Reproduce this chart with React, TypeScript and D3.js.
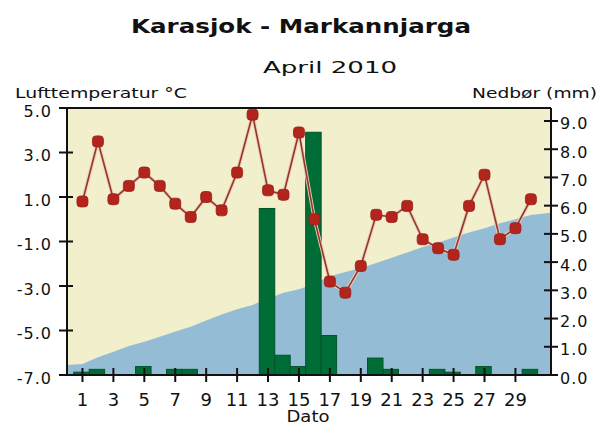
import React from "react";
import * as d3 from "d3";

const days = [1, 2, 3, 4, 5, 6, 7, 8, 9, 10, 11, 12, 13, 14, 15, 16, 17, 18, 19, 20, 21, 22, 23, 24, 25, 26, 27, 28, 29, 30];
const temperature = [0.8, 3.5, 0.9, 1.5, 2.1, 1.5, 0.7, 0.1, 1.0, 0.4, 2.1, 4.7, 1.3, 1.1, 3.9, 0.0, -2.8, -3.3, -2.1, 0.2, 0.1, 0.6, -0.9, -1.3, -1.6, 0.6, 2.0, -0.9, -0.4, 0.9];
const precipitation = [0.1, 0.2, 0, 0, 0.3, 0, 0.2, 0.2, 0, 0, 0, 0, 5.9, 0.7, 0.3, 8.6, 1.4, 0, 0, 0.6, 0.2, 0, 0, 0.2, 0.1, 0, 0.3, 0, 0, 0.2];
const normalDays = [0, 1, 2, 3, 4, 5, 6, 7, 8, 9, 10, 11, 12, 13, 14, 15, 16, 17, 18, 19, 20, 21, 22, 23, 24, 25, 26, 27, 28, 29, 30, 31, 31.3];
const normalTemp = [-6.55, -6.5, -6.2, -5.95, -5.7, -5.5, -5.28, -5.05, -4.83, -4.55, -4.28, -4.05, -3.85, -3.57, -3.3, -3.15, -2.9, -2.56, -2.37, -2.2, -1.97, -1.73, -1.49, -1.25, -1.04, -0.82, -0.6, -0.4, -0.18, 0.0, 0.19, 0.27, 0.3];
const tempTicks = [5, 3, 1, -1, -3, -5, -7];
const precipTicks = [0, 1, 2, 3, 4, 5, 6, 7, 8, 9];
const dayTicks = [1, 3, 5, 7, 9, 11, 13, 15, 17, 19, 21, 23, 25, 27, 29];

const W = 600, H = 427;
const L = 67, R = 551, T = 108, B = 375;

export default function App() {
  const x = d3.scaleLinear().domain([0, 31.3]).range([L, R]);
  const yT = d3.scaleLinear().domain([-7, 5]).range([B, T]);
  const yP = d3.scaleLinear().domain([0, 9.46]).range([B, T]);

  const area = d3.area<number>()
    .x((_, i) => x(normalDays[i]))
    .y0(B)
    .y1((d) => yT(d));
  const line = d3.line<number>()
    .x((_, i) => x(days[i]))
    .y((d) => yT(d));

  const font = "'DejaVu Sans', Verdana, sans-serif";

  return (
    <svg width={W} height={H} style={{ position: "absolute", left: 0, top: 0, background: "#fff" }} fontFamily={font}>
      <text x={301} y={33} textAnchor="middle" fontSize={20} fontWeight="bold" textLength={340} lengthAdjust="spacingAndGlyphs" fill="#111">Karasjok - Markannjarga</text>
      <text x={330} y={73} textAnchor="middle" fontSize={16} textLength={134} lengthAdjust="spacingAndGlyphs" fill="#111">April 2010</text>
      <text x={15} y={98} fontSize={14} textLength={172} lengthAdjust="spacingAndGlyphs" fill="#111">Lufttemperatur °C</text>
      <text x={472} y={98} fontSize={14} textLength={125} lengthAdjust="spacingAndGlyphs" fill="#111">Nedbør (mm)</text>

      <rect x={L} y={T} width={R - L} height={B - T} fill="#f1efcc" />
      <path d={area(normalTemp) || ""} fill="#95bcd5" />

      {precipitation.map((p, i) =>
        p > 0 ? (
          <rect key={i} x={x(days[i] - 0.5) - 1} y={yP(p)} width={x(days[i] + 0.5) - x(days[i] - 0.5)} height={B - yP(p)} fill="#006d36" stroke="#00532a" strokeWidth={1} />
        ) : null
      )}

      <path d={line(temperature) || ""} fill="none" stroke="#f3c8b8" strokeWidth={3.5} />
      <path d={line(temperature) || ""} fill="none" stroke="#8e3a2a" strokeWidth={1.6} />
      {temperature.map((t, i) => (
        <rect key={i} x={x(days[i]) - 5.5} y={yT(t) - 5.5} width={11} height={11} rx={3.5} fill="#b3251c" stroke="#9a1e16" strokeWidth={0.8} />
      ))}

      <line x1={L} x2={R} y1={T} y2={T} stroke="#111" strokeWidth={2} />
      <line x1={L} x2={L} y1={T} y2={B} stroke="#111" strokeWidth={2} />
      <line x1={R} x2={R} y1={T} y2={B} stroke="#111" strokeWidth={2} />
      <line x1={L} x2={R} y1={B} y2={B} stroke="#111" strokeWidth={2} />

      {tempTicks.map((t) => (
        <g key={t}>
          <line x1={59} x2={73} y1={yT(t)} y2={yT(t)} stroke="#111" strokeWidth={2} />
          <text x={52} y={yT(t) + 8.5} textAnchor="end" fontSize={16} letterSpacing={1} fill="#111">{t.toFixed(1)}</text>
        </g>
      ))}
      {precipTicks.map((p) => (
        <g key={p}>
          <line x1={544} x2={558} y1={yP(p)} y2={yP(p)} stroke="#111" strokeWidth={2} />
          <text x={560} y={yP(p) + 8.5} fontSize={16} letterSpacing={1} fill="#111">{p.toFixed(1)}</text>
        </g>
      ))}
      {dayTicks.map((d) => (
        <g key={d}>
          <line x1={x(d)} x2={x(d)} y1={368} y2={382} stroke="#111" strokeWidth={2} />
          <text x={x(d)} y={405.5} textAnchor="middle" fontSize={18} fill="#111">{d}</text>
        </g>
      ))}
      <text x={308} y={422} textAnchor="middle" fontSize={15} textLength={43} lengthAdjust="spacingAndGlyphs" fill="#111">Dato</text>
    </svg>
  );
}
